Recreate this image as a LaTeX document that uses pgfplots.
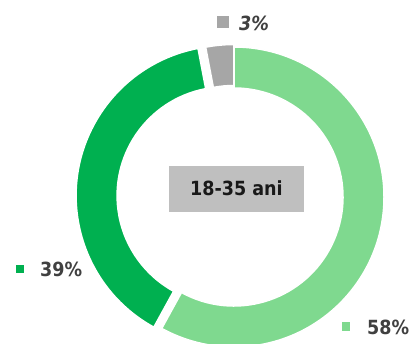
\documentclass[border=0pt]{standalone}
\usepackage{pgfplots}
\usepackage{pgfplotstable}
\pgfplotsset{compat=1.18}
\usepackage{fontspec}
\setmainfont{DejaVu Sans Condensed}

\definecolor{lightgreen}{HTML}{7FD98F}
\definecolor{darkgreen}{HTML}{00B050}
\definecolor{slicegray}{HTML}{A6A6A6}
\definecolor{labelgray}{HTML}{404040}
\definecolor{boxgray}{HTML}{BFBFBF}

% share of each slice, colour, pull-out distance (bp)
\pgfplotstableread{
value col explode
58 lightgreen 0
39 darkgreen 8
3 slicegray 2.5
}\slices

\newcommand{\lbl}{\fontsize{19.5bp}{21bp}\selectfont\bfseries}

\begin{document}
\begin{tikzpicture}
% start/end angles of the slices, clockwise from the top
\def\cum{0}
\pgfplotsforeachungrouped \i in {0,1,2}{%
  \pgfplotstablegetelem{\i}{value}\of\slices \let\v\pgfplotsretval
  \pgfplotstablegetelem{\i}{explode}\of\slices \let\ex\pgfplotsretval
  \pgfplotstablegetelem{\i}{col}\of\slices
  \expandafter\edef\csname col\i\endcsname{\pgfplotsretval}%
  \pgfmathsetmacro\aA{90-3.6*\cum}%
  \pgfmathsetmacro\cum{\cum+\v}%
  \pgfmathsetmacro\aB{90-3.6*\cum}%
  \pgfmathsetmacro\cx{234+\ex*cos((\aA+\aB)/2)}%
  \pgfmathsetmacro\cy{147+\ex*sin((\aA+\aB)/2)}%
  \expandafter\edef\csname sA\i\endcsname{\aA}%
  \expandafter\edef\csname sB\i\endcsname{\aB}%
  \expandafter\edef\csname cx\i\endcsname{\cx}%
  \expandafter\edef\csname cy\i\endcsname{\cy}%
}
\begin{axis}[
  width=412bp, height=344bp, scale only axis,
  xmin=0, xmax=412, ymin=0, ymax=344,
  hide axis, clip=true,
]
\pgfplotsinvokeforeach{0,1,2}{%
  \edef\temp{\noexpand\filldraw[fill=\csname col#1\endcsname, draw=white, line width=1.5bp]
    ([shift={(\csname sA#1\endcsname:150bp)}]axis cs:\csname cx#1\endcsname,\csname cy#1\endcsname)
    arc[start angle=\csname sA#1\endcsname, end angle=\csname sB#1\endcsname, radius=150bp]
    -- ([shift={(\csname sB#1\endcsname:109bp)}]axis cs:\csname cx#1\endcsname,\csname cy#1\endcsname)
    arc[start angle=\csname sB#1\endcsname, end angle=\csname sA#1\endcsname, radius=109bp]
    -- cycle;}%
  \temp
}
% centre box
\fill[boxgray] (axis cs:169,132) rectangle (axis cs:304,178);
\node[anchor=base west, inner sep=0pt, text=black!90] at (axis cs:190,148) {\lbl 18-35 ani};
% slice labels
\fill[darkgreen] (axis cs:16,71) rectangle (axis cs:24,79);
\node[anchor=base west, inner sep=0pt, text=labelgray] at (axis cs:40,67) {\lbl 39\%};
\fill[lightgreen] (axis cs:342,13) rectangle (axis cs:350,22);
\node[anchor=base west, inner sep=0pt, text=labelgray] at (axis cs:367,10) {\lbl 58\%};
\fill[slicegray] (axis cs:217,316) rectangle (axis cs:229,328);
\node[anchor=base west, inner sep=0pt, text=labelgray] at (axis cs:239,313) {\lbl\itshape 3\%};
\end{axis}
\pgfresetboundingbox
\path (current axis.south west) rectangle (current axis.north east);
\end{tikzpicture}
\end{document}
